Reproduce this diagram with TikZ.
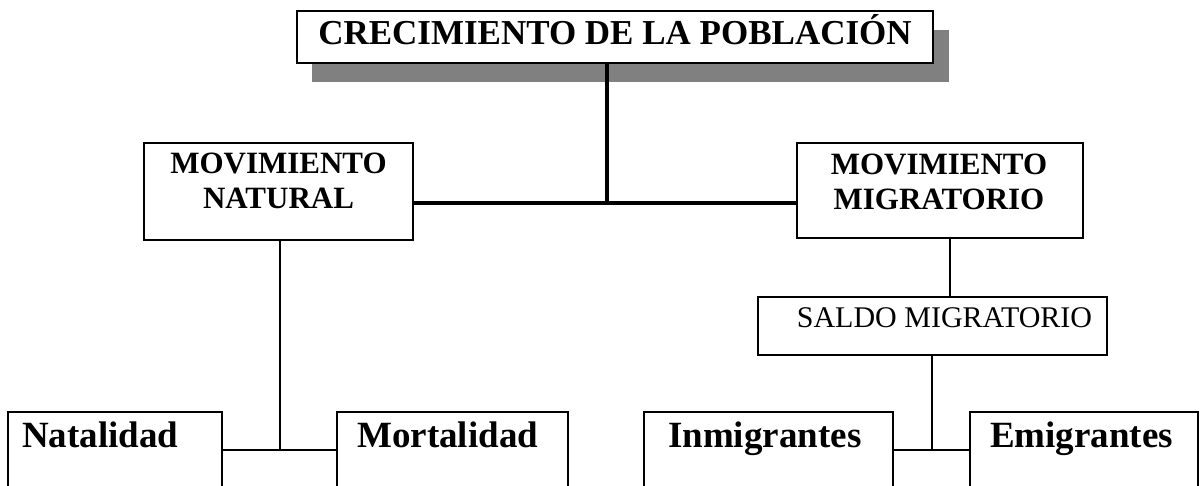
\documentclass[tikz,border=0pt]{standalone}
\usepackage{fontspec}
\setmainfont{Liberation Serif}
\begin{document}
\begin{tikzpicture}[x=1pt,y=-1pt,
  box/.style={draw=black,line width=2pt,inner sep=0pt,fill=white},
  thinbox/.style={draw=black,line width=1.5pt,inner sep=0pt,fill=white},
  bigt/.style={inner sep=0pt,anchor=base,font=\fontsize{35}{40}\selectfont\bfseries},
  movt/.style={inner sep=0pt,align=center,font=\fontsize{31}{35}\selectfont\bfseries},
  bott/.style={inner sep=0pt,anchor=base west,font=\fontsize{37}{42}\selectfont\bfseries},
  salt/.style={inner sep=0pt,anchor=base,font=\fontsize{30}{34}\selectfont},
  thick line/.style={line width=4.5pt},
  thin line/.style={line width=2pt}]
\useasboundingbox (0,0) rectangle (1200,486);
\clip (0,0) rectangle (1200,486);
\fill[white] (0,0) rectangle (1200,486);
% top box with shadow
\fill[black!50] (312,30) rectangle (949,82);
\node[box,minimum width=636pt,minimum height=52pt] (top) at (615,37) {};
\node[bigt] (toptext) at (615,45) {CRECIMIENTO DE LA POBLACIÓN};
% movement boxes
\node[box,minimum width=269pt,minimum height=97pt] (nat) at (278.5,191.5) {};
\node[movt] (nattext) at (278.5,180.7) {MOVIMIENTO\\NATURAL};
\node[box,minimum width=286pt,minimum height=95pt] (mig) at (940,190.5) {};
\node[movt] (migtext) at (939,182.3) {MOVIMIENTO\\MIGRATORIO};
% saldo
\node[thinbox,minimum width=349pt,minimum height=58pt] (sal) at (932.5,326) {};
\node[salt] (saltext) at (944.5,328) {SALDO MIGRATORIO};
% bottom boxes
\node[box,minimum width=214pt,minimum height=120pt] (nata) at (115,472) {};
\node[box,minimum width=231pt,minimum height=120pt] (mort) at (452.5,472) {};
\node[box,minimum width=249pt,minimum height=120pt] (inm) at (768.5,472) {};
\node[box,minimum width=228pt,minimum height=120pt] (emi) at (1084,472) {};
\node[bott] (natatext) at (22,447) {Natalidad};
\node[bott] (morttext) at (357,447) {Mortalidad};
\node[bott] (inmtext) at (668,447) {Inmigrantes};
\node[bott] (emitext) at (990,447) {Emigrantes};
% connectors
\coordinate (j1) at (607,203);
\coordinate (j2) at (280,450);
\coordinate (j3) at (932,450);
\coordinate (j4) at (950,270);
\draw[thick line] (top.south -| j1) -- (j1);
\draw[thick line] (nat.east |- j1) -- (mig.west |- j1);
\draw[thin line] (nat.south -| j2) -- (j2);
\draw[thin line] (nata.east |- j2) -- (mort.west |- j2);
\draw[thin line] (mig.south -| j4) -- (sal.north -| j4);
\draw[thin line] (sal.south -| j3) -- (j3);
\draw[thin line] (inm.east |- j3) -- (emi.west |- j3);
\end{tikzpicture}
\end{document}
